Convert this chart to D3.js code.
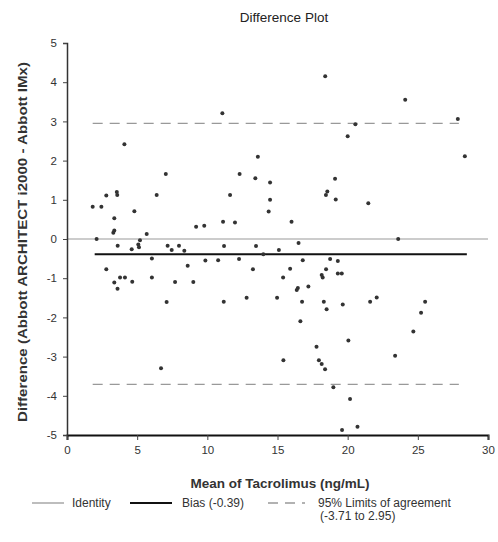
<!DOCTYPE html>
<html>
<head>
<meta charset="utf-8">
<script src="https://cdn.jsdelivr.net/npm/d3@7"></script>
<style>
  body { margin: 0; background: #fff; }
  svg { display: block; font-family: "Liberation Sans", Arial, sans-serif; }
</style>
</head>
<body>
<div id="chart"></div>
<script>
// Mean of the two methods (x) and their difference (y)
var means = [11.07, 18.4, 24.1, 20.55, 27.85, 20.0, 4.09, 13.6, 28.35, 7.04,
  12.3, 13.42, 19.1, 14.47, 18.55, 18.45, 19.15, 14.47, 21.47, 14.37,
  11.62, 6.39, 2.8, 3.55, 3.58, 1.83, 2.45, 4.8, 3.37, 3.3,
  3.37, 9.2, 9.78, 11.12, 11.97, 16.0, 2.11, 5.68, 5.2, 23.6,
  3.61, 4.61, 5.13, 5.08, 7.17, 7.46, 7.98, 8.36, 11.19, 13.47,
  13.99, 15.1, 16.5, 6.05, 9.86, 10.77, 12.26, 16.8, 18.75, 19.3,
  8.6, 2.8, 13.25, 15.9, 18.46, 18.15, 18.22, 19.3, 19.58, 15.4,
  3.78, 4.13, 3.37, 4.65, 6.05, 7.7, 9.0, 3.6, 16.45, 17.2,
  7.1, 11.17, 12.8, 14.97, 16.75, 18.3, 18.5, 19.65, 21.6, 22.07,
  25.52, 25.23, 24.68, 16.63, 20.05, 17.78, 15.42, 17.95, 18.15, 18.39,
  23.38, 6.7, 18.98, 20.17, 19.6, 20.7, 16.37];
var diffs = [3.21, 4.15, 3.55, 2.93, 3.06, 2.62, 2.42, 2.1, 2.11, 1.66,
  1.66, 1.55, 1.54, 1.44, 1.21, 1.12, 1.01, 1.0, 0.91, 0.7,
  1.12, 1.12, 1.11, 1.2, 1.12, 0.82, 0.82, 0.71, 0.53, 0.16,
  0.22, 0.31, 0.34, 0.44, 0.42, 0.44, 0.0, 0.13, -0.03, 0.0,
  -0.17, -0.26, -0.21, -0.14, -0.17, -0.28, -0.17, -0.3, -0.18, -0.18,
  -0.39, -0.28, -0.1, -0.5, -0.55, -0.54, -0.51, -0.54, -0.51, -0.56,
  -0.68, -0.77, -0.77, -0.76, -0.77, -0.92, -0.98, -0.88, -0.88, -0.98,
  -0.98, -0.98, -1.11, -1.09, -0.98, -1.1, -1.1, -1.27, -1.25, -1.21,
  -1.61, -1.6, -1.5, -1.5, -1.6, -1.6, -1.79, -1.67, -1.6, -1.49,
  -1.6, -1.88, -2.36, -2.1, -2.59, -2.75, -3.09, -3.09, -3.19, -3.32,
  -2.98, -3.3, -3.78, -4.08, -4.87, -4.79, -1.3];

var bias = -0.39;
var limits = [-3.71, 2.95];
var xTicks = [0, 5, 10, 15, 20, 25, 30];
var yTicks = [-5, -4, -3, -2, -1, 0, 1, 2, 3, 4, 5];

var width = 498, height = 542;

var svg = d3.select("#chart").append("svg")
    .attr("width", width)
    .attr("height", height);

var x = d3.scaleLinear().domain([0, 30]).range([67, 488]);
var y = d3.scaleLinear().domain([-5, 5]).range([435, 43]);

// title
svg.append("text")
    .attr("x", 284).attr("y", 22)
    .attr("text-anchor", "middle")
    .attr("font-size", 13.5)
    .attr("fill", "#222")
    .text("Difference Plot");

// identity line
svg.append("line")
    .attr("x1", x(0)).attr("x2", x(30))
    .attr("y1", y(0)).attr("y2", y(0))
    .attr("stroke", "#bbb").attr("stroke-width", 1.5);

var ext = d3.extent(means);

// limits of agreement
svg.selectAll(".loa").data(limits).enter().append("line")
    .attr("class", "loa")
    .attr("x1", x(ext[0])).attr("x2", x(ext[1]) - 6)
    .attr("y1", function(d) { return y(d); })
    .attr("y2", function(d) { return y(d); })
    .attr("stroke", "#999").attr("stroke-width", 1.3)
    .attr("stroke-dasharray", "10,7");

// bias
svg.append("line")
    .attr("x1", x(ext[0]) + 2).attr("x2", x(ext[1]) + 2)
    .attr("y1", y(bias)).attr("y2", y(bias))
    .attr("stroke", "#111").attr("stroke-width", 2);

// points
svg.append("g").selectAll("circle")
    .data(means.map(function(m, i) { return [m, diffs[i]]; }))
    .enter().append("circle")
    .attr("cx", function(d) { return x(d[0]); })
    .attr("cy", function(d) { return y(d[1]); })
    .attr("r", 2)
    .attr("fill", "#333");

// axes (plain hyphen minus like the original)
var fmt = function(d) { return String(d); };

var xAxis = svg.append("g")
    .attr("transform", "translate(0," + y(-5) + ")")
    .call(d3.axisBottom(x).tickValues(xTicks).tickFormat(fmt).tickSize(5).tickPadding(6));
xAxis.select(".domain").attr("stroke", "#111").attr("stroke-width", 2);

var yAxis = svg.append("g")
    .attr("transform", "translate(" + x(0) + ",0)")
    .call(d3.axisLeft(y).tickValues(yTicks).tickFormat(fmt).tickSize(4).tickPadding(6));
yAxis.select(".domain").attr("stroke", "#333").attr("stroke-width", 1.5);

[xAxis, yAxis].forEach(function(g) {
    g.selectAll("text").attr("font-size", 11.5).attr("fill", "#333")
        .attr("font-family", "Liberation Sans, Arial, sans-serif");
    g.selectAll(".tick line").attr("stroke", "#444");
});

// axis titles
svg.append("text")
    .attr("x", 280).attr("y", 488)
    .attr("text-anchor", "middle")
    .attr("font-size", 13.5).attr("font-weight", "bold")
    .attr("fill", "#333")
    .text("Mean of Tacrolimus (ng/mL)");

svg.append("text")
    .attr("transform", "translate(27,242) rotate(-90)")
    .attr("text-anchor", "middle")
    .attr("font-size", 13).attr("font-weight", "bold")
    .attr("textLength", 360).attr("lengthAdjust", "spacingAndGlyphs")
    .attr("fill", "#333")
    .text("Difference (Abbott ARCHITECT i2000 - Abbott IMx)");

// legend
var legend = svg.append("g").attr("font-size", 12).attr("fill", "#333");
var ly = 503;
legend.append("line").attr("x1", 32).attr("x2", 64).attr("y1", ly).attr("y2", ly)
    .attr("stroke", "#999").attr("stroke-width", 1.3);
legend.append("text").attr("x", 72).attr("y", ly + 4).text("Identity");
legend.append("line").attr("x1", 130).attr("x2", 172).attr("y1", ly).attr("y2", ly)
    .attr("stroke", "#111").attr("stroke-width", 2);
legend.append("text").attr("x", 182).attr("y", ly + 4).text("Bias (" + bias.toFixed(2) + ")");
legend.append("line").attr("x1", 268).attr("x2", 305).attr("y1", ly).attr("y2", ly)
    .attr("stroke", "#999").attr("stroke-width", 1.3).attr("stroke-dasharray", "10,7");
legend.append("text").attr("x", 318).attr("y", ly + 4).text("95% Limits of agreement");
legend.append("text").attr("x", 320).attr("y", ly + 17)
    .text("(" + limits[0] + " to " + limits[1] + ")");
</script>
</body>
</html>
